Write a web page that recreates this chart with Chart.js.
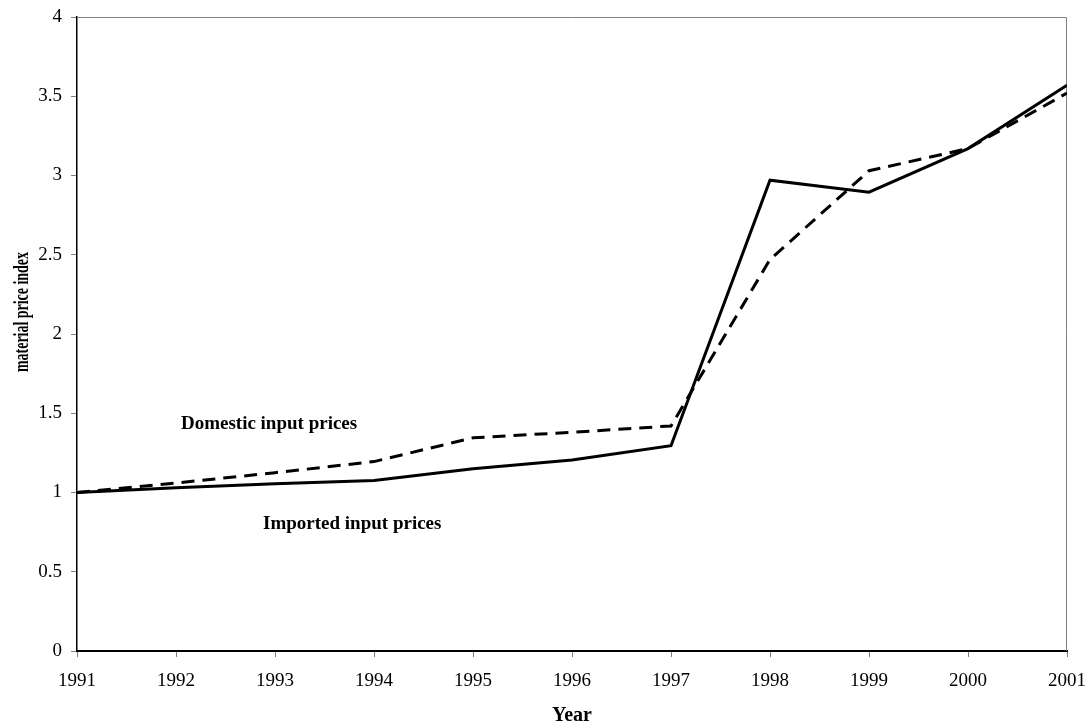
<!DOCTYPE html>
<html lang="en">
<head>
    <meta charset="UTF-8">
    <title>Material price index</title>
    <script src="https://cdn.jsdelivr.net/npm/chart.js"></script>
    <style>
        html, body { margin: 0; padding: 0; background: #fff; }
        #wrap { width: 1091px; height: 728px; }
    </style>
</head>
<body>
    <div id="wrap"><canvas id="priceChart"></canvas></div>
    <script>
        // data
        const years = [1991, 1992, 1993, 1994, 1995, 1996, 1997, 1998, 1999, 2000, 2001];
        const imported = [1.00, 1.03, 1.055, 1.075, 1.15, 1.205, 1.295, 2.97, 2.895, 3.17, 3.57];
        const domestic = [1.00, 1.06, 1.125, 1.195, 1.345, 1.38, 1.42, 2.47, 3.03, 3.17, 3.52];
        const yTicks = [0, 0.5, 1, 1.5, 2, 2.5, 3, 3.5, 4];

        // text labels placed in data units
        const noteText = ['Domestic input prices', 'Imported input prices'];
        const noteX = [1992.94, 1993.78];
        const noteY = [1.43, 0.80];

        const serif = '"Liberation Serif", "Times New Roman", serif';

        const frameAndNotes = {
            id: 'frameAndNotes',
            beforeDatasetsDraw(chart) {
                const { ctx, chartArea } = chart;
                ctx.save();
                ctx.strokeStyle = '#808080';
                ctx.lineWidth = 1;
                ctx.beginPath();
                ctx.moveTo(chartArea.left, chartArea.top + 0.5);
                ctx.lineTo(chartArea.right - 0.5, chartArea.top + 0.5);
                ctx.lineTo(chartArea.right - 0.5, chartArea.bottom);
                ctx.stroke();
                ctx.restore();
            },
            afterDatasetsDraw(chart) {
                const { ctx, scales } = chart;
                ctx.save();
                ctx.font = 'bold 19px ' + serif;
                ctx.fillStyle = '#000';
                ctx.textAlign = 'center';
                ctx.textBaseline = 'middle';
                noteText.forEach((t, i) => {
                    ctx.fillText(t, scales.x.getPixelForValue(noteX[i]), scales.y.getPixelForValue(noteY[i]));
                });

                // y axis title: the original is squeezed along its length
                const title = 'material price index';
                ctx.font = 'bold 20px ' + serif;
                const w = ctx.measureText(title).width;
                ctx.translate(23, 312);
                ctx.rotate(-Math.PI / 2);
                ctx.scale(120 / w, 1);
                ctx.fillText(title, 0, 0);
                ctx.restore();
            }
        };

        const ctx = document.getElementById('priceChart').getContext('2d');
        new Chart(ctx, {
            type: 'line',
            data: {
                datasets: [
                    {
                        label: 'Imported input prices',
                        data: years.map((y, i) => ({ x: y, y: imported[i] })),
                        borderColor: '#000',
                        borderWidth: 3,
                        pointRadius: 0,
                        tension: 0,
                        fill: false
                    },
                    {
                        label: 'Domestic input prices',
                        data: years.map((y, i) => ({ x: y, y: domestic[i] })),
                        borderColor: '#000',
                        borderWidth: 3,
                        borderDash: [13, 8],
                        pointRadius: 0,
                        tension: 0,
                        fill: false
                    }
                ]
            },
            options: {
                responsive: true,
                maintainAspectRatio: false,
                animation: false,
                layout: { padding: { top: 17, right: 24, left: 0, bottom: 0 } },
                plugins: {
                    legend: { display: false },
                    tooltip: { enabled: false }
                },
                scales: {
                    x: {
                        type: 'linear',
                        min: years[0],
                        max: years[years.length - 1],
                        afterFit(s) {
                            s.height = 77;
                            s.paddingLeft = 0;
                            s.paddingRight = 0;
                        },
                        afterBuildTicks(s) { s.ticks = years.map(v => ({ value: v })); },
                        ticks: {
                            callback: v => String(v),
                            color: '#000',
                            font: { family: serif, size: 19 },
                            padding: 13,
                            maxRotation: 0,
                            autoSkip: false
                        },
                        grid: { drawOnChartArea: false, color: '#808080', tickLength: 6 },
                        border: { color: '#000', width: 2 },
                        title: {
                            display: true,
                            text: 'Year',
                            color: '#000',
                            font: { family: serif, size: 20, weight: 'bold' },
                            padding: { top: 0, bottom: 0 }
                        }
                    },
                    y: {
                        min: 0,
                        max: 4,
                        afterFit(s) {
                            s.width = 77;
                            s.paddingTop = 0;
                            s.paddingBottom = 0;
                        },
                        afterBuildTicks(s) { s.ticks = yTicks.map(v => ({ value: v })); },
                        ticks: {
                            callback: v => String(v),
                            color: '#000',
                            font: { family: serif, size: 19 },
                            padding: 9
                        },
                        grid: { drawOnChartArea: false, color: '#808080', tickLength: 6 },
                        border: { color: '#000', width: 1.5 },
                        title: { display: false }
                    }
                }
            },
            plugins: [frameAndNotes]
        });
    </script>
</body>
</html>
